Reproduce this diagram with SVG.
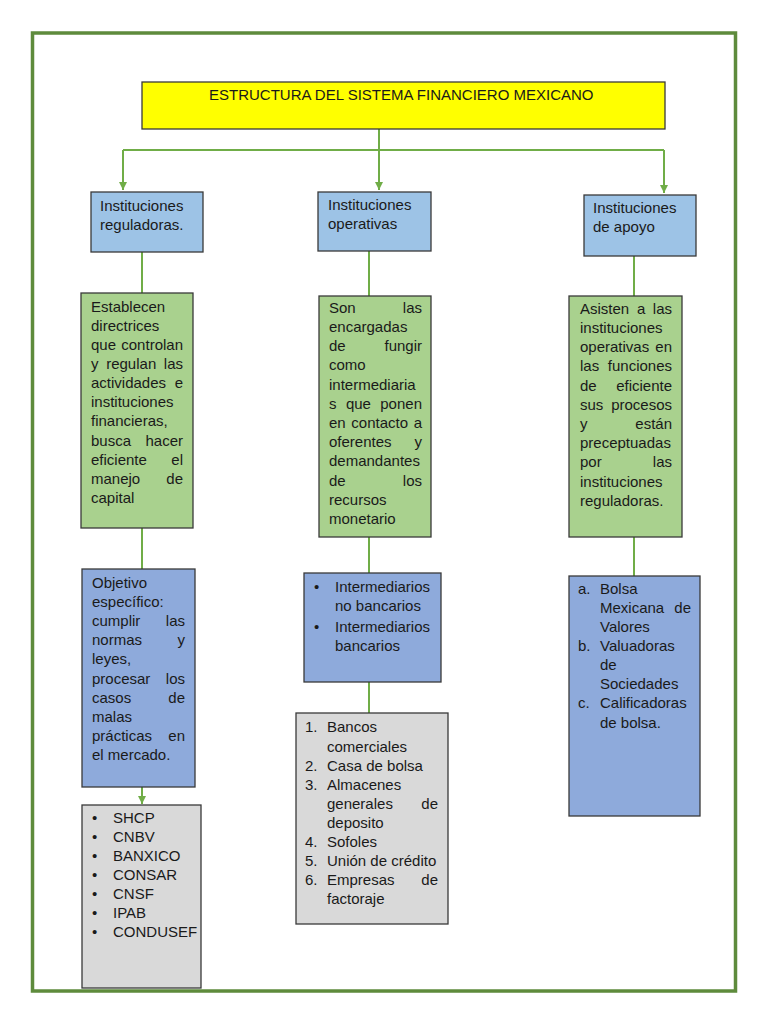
<svg xmlns="http://www.w3.org/2000/svg" width="768" height="1024" viewBox="0 0 768 1024">
<defs>
<marker id="ah" markerUnits="userSpaceOnUse" markerWidth="8" markerHeight="8" viewBox="0 0 8 8" refX="8" refY="4" orient="auto">
<path d="M0,0 L8,4 L0,8 Z" fill="#70ad47"/>
</marker>
<style>
.t{font-family:"Liberation Sans",Arial,sans-serif;font-size:15px;fill:#1a1a1a}
.e{text-anchor:end}
.bx{stroke:#3a3a3a;stroke-width:1.3}
.yl{fill:#ffff00}
.lb{fill:#9dc3e6}
.db{fill:#8eaadb}
.gr{fill:#a9d18e}
.gy{fill:#d9d9d9}
.c{fill:none;stroke:#70ad47;stroke-width:2}
</style>
</defs>
<rect width="768" height="1024" fill="#ffffff"/>
<rect x="32.5" y="33" width="703" height="958" fill="none" stroke="#5e8b3c" stroke-width="3.5"/>

<g id="connectors">
<path class="c" d="M379,129 V190" marker-end="url(#ah)"/>
<path class="c" d="M123,150 H664"/>
<path class="c" d="M123,150 V190" marker-end="url(#ah)"/>
<path class="c" d="M664,150 V193" marker-end="url(#ah)"/>
<path class="c" d="M142,252 V293"/>
<path class="c" d="M142,528 V569"/>
<path class="c" d="M142,787 V804" marker-end="url(#ah)"/>
<path class="c" d="M369,251 V296"/>
<path class="c" d="M369,537 V573"/>
<path class="c" d="M369,682 V713"/>
<path class="c" d="M634,256 V296"/>
<path class="c" d="M634,537 V576"/>
</g>

<g id="title">
<rect class="bx yl" x="142" y="82" width="523" height="47"/>
<text class="t" x="209" y="100">ESTRUCTURA DEL SISTEMA FINANCIERO MEXICANO</text>
</g>

<g id="reguladoras">
<rect class="bx lb" x="91" y="192" width="112" height="60"/>
<text class="t" x="100" y="211">Instituciones</text>
<text class="t" x="100" y="230">reguladoras.</text>
</g>

<g id="operativas">
<rect class="bx lb" x="318" y="192" width="113" height="59"/>
<text class="t" x="328" y="210">Instituciones</text>
<text class="t" x="328" y="229">operativas</text>
</g>

<g id="apoyo">
<rect class="bx lb" x="584" y="195" width="112" height="61"/>
<text class="t" x="593" y="213">Instituciones</text>
<text class="t" x="593" y="232">de apoyo</text>
</g>

<g id="desc-reguladoras">
<rect class="bx gr" x="81" y="293" width="112" height="235"/>
<text class="t" x="91" y="312">Establecen</text>
<text class="t" x="91" y="331">directrices</text>
<text class="t" x="91" y="350">que</text><text class="t e" x="183" y="350">controlan</text>
<text class="t" x="91" y="369">y</text><text class="t" x="106.2" y="369">regulan</text><text class="t e" x="183" y="369">las</text>
<text class="t" x="91" y="388">actividades</text><text class="t e" x="183" y="388">e</text>
<text class="t" x="91" y="407">instituciones</text>
<text class="t" x="91" y="426">financieras,</text>
<text class="t" x="91" y="446">busca</text><text class="t e" x="183" y="446">hacer</text>
<text class="t" x="91" y="465">eficiente</text><text class="t e" x="183" y="465">el</text>
<text class="t" x="91" y="484">manejo</text><text class="t e" x="183" y="484">de</text>
<text class="t" x="91" y="503">capital</text>
</g>

<g id="objetivo">
<rect class="bx db" x="82" y="569" width="113" height="218"/>
<text class="t" x="92" y="588">Objetivo</text>
<text class="t" x="92" y="607">específico:</text>
<text class="t" x="92" y="626">cumplir</text><text class="t e" x="185" y="626">las</text>
<text class="t" x="92" y="645">normas</text><text class="t e" x="185" y="645">y</text>
<text class="t" x="92" y="664">leyes,</text>
<text class="t" x="92" y="684">procesar</text><text class="t e" x="185" y="684">los</text>
<text class="t" x="92" y="703">casos</text><text class="t e" x="185" y="703">de</text>
<text class="t" x="92" y="722">malas</text>
<text class="t" x="92" y="741">prácticas</text><text class="t e" x="185" y="741">en</text>
<text class="t" x="92" y="760">el mercado.</text>
</g>

<g id="lista-reguladoras">
<rect class="bx gy" x="82" y="805" width="119" height="183"/>
<text class="t" x="92" y="823">•</text><text class="t" x="113" y="823">SHCP</text>
<text class="t" x="92" y="842">•</text><text class="t" x="113" y="842">CNBV</text>
<text class="t" x="92" y="861">•</text><text class="t" x="113" y="861">BANXICO</text>
<text class="t" x="92" y="880">•</text><text class="t" x="113" y="880">CONSAR</text>
<text class="t" x="92" y="899">•</text><text class="t" x="113" y="899">CNSF</text>
<text class="t" x="92" y="918">•</text><text class="t" x="113" y="918">IPAB</text>
<text class="t" x="92" y="937">•</text><text class="t" x="113" y="937">CONDUSEF</text>
</g>

<g id="desc-operativas">
<rect class="bx gr" x="319" y="296" width="112" height="241"/>
<text class="t" x="329" y="313">Son</text><text class="t e" x="422" y="313">las</text>
<text class="t" x="329" y="332">encargadas</text>
<text class="t" x="329" y="351">de</text><text class="t e" x="422" y="351">fungir</text>
<text class="t" x="329" y="370">como</text>
<text class="t" x="329" y="390">intermediaria</text>
<text class="t" x="329" y="409">s</text><text class="t" x="345.9" y="409">que</text><text class="t e" x="422" y="409">ponen</text>
<text class="t" x="329" y="428">en</text><text class="t" x="351.3" y="428">contacto</text><text class="t e" x="422" y="428">a</text>
<text class="t" x="329" y="447">oferentes</text><text class="t e" x="422" y="447">y</text>
<text class="t" x="329" y="466">demandantes</text>
<text class="t" x="329" y="486">de</text><text class="t e" x="422" y="486">los</text>
<text class="t" x="329" y="505">recursos</text>
<text class="t" x="329" y="524">monetario</text>
</g>

<g id="intermediarios">
<rect class="bx db" x="304" y="573" width="137" height="109"/>
<text class="t" x="314" y="592">•</text><text class="t" x="335" y="592">Intermediarios</text>
<text class="t" x="335" y="611">no bancarios</text>
<text class="t" x="314" y="632">•</text><text class="t" x="335" y="632">Intermediarios</text>
<text class="t" x="335" y="651">bancarios</text>
</g>

<g id="lista-operativas">
<rect class="bx gy" x="296" y="713" width="152" height="211"/>
<text class="t" x="305" y="732">1.</text><text class="t" x="327" y="732">Bancos</text>
<text class="t" x="327" y="752">comerciales</text>
<text class="t" x="305" y="771">2.</text><text class="t" x="327" y="771">Casa de bolsa</text>
<text class="t" x="305" y="790">3.</text><text class="t" x="327" y="790">Almacenes</text>
<text class="t" x="327" y="809">generales</text><text class="t e" x="438" y="809">de</text>
<text class="t" x="327" y="828">deposito</text>
<text class="t" x="305" y="847">4.</text><text class="t" x="327" y="847">Sofoles</text>
<text class="t" x="305" y="866">5.</text><text class="t" x="327" y="866">Unión de crédito</text>
<text class="t" x="305" y="885">6.</text><text class="t" x="327" y="885">Empresas</text><text class="t e" x="438" y="885">de</text>
<text class="t" x="327" y="904">factoraje</text>
</g>

<g id="desc-apoyo">
<rect class="bx gr" x="569" y="296" width="113" height="241"/>
<text class="t" x="580" y="314">Asisten</text><text class="t" x="636.9" y="314">a</text><text class="t e" x="672" y="314">las</text>
<text class="t" x="580" y="333">instituciones</text>
<text class="t" x="580" y="352">operativas</text><text class="t e" x="672" y="352">en</text>
<text class="t" x="580" y="371">las</text><text class="t e" x="672" y="371">funciones</text>
<text class="t" x="580" y="391">de</text><text class="t e" x="672" y="391">eficiente</text>
<text class="t" x="580" y="410">sus</text><text class="t e" x="672" y="410">procesos</text>
<text class="t" x="580" y="429">y</text><text class="t e" x="672" y="429">están</text>
<text class="t" x="580" y="448">preceptuadas</text>
<text class="t" x="580" y="467">por</text><text class="t e" x="672" y="467">las</text>
<text class="t" x="580" y="487">instituciones</text>
<text class="t" x="580" y="506">reguladoras.</text>
</g>

<g id="lista-apoyo">
<rect class="bx db" x="569" y="576" width="131" height="240"/>
<text class="t" x="578" y="594">a.</text><text class="t" x="600" y="594">Bolsa</text>
<text class="t" x="600" y="613">Mexicana</text><text class="t e" x="691" y="613">de</text>
<text class="t" x="600" y="632">Valores</text>
<text class="t" x="578" y="651">b.</text><text class="t" x="600" y="651">Valuadoras</text>
<text class="t" x="600" y="670">de</text>
<text class="t" x="600" y="689">Sociedades</text>
<text class="t" x="578" y="708">c.</text><text class="t" x="600" y="708">Calificadoras</text>
<text class="t" x="600" y="728">de bolsa.</text>
</g>
</svg>
